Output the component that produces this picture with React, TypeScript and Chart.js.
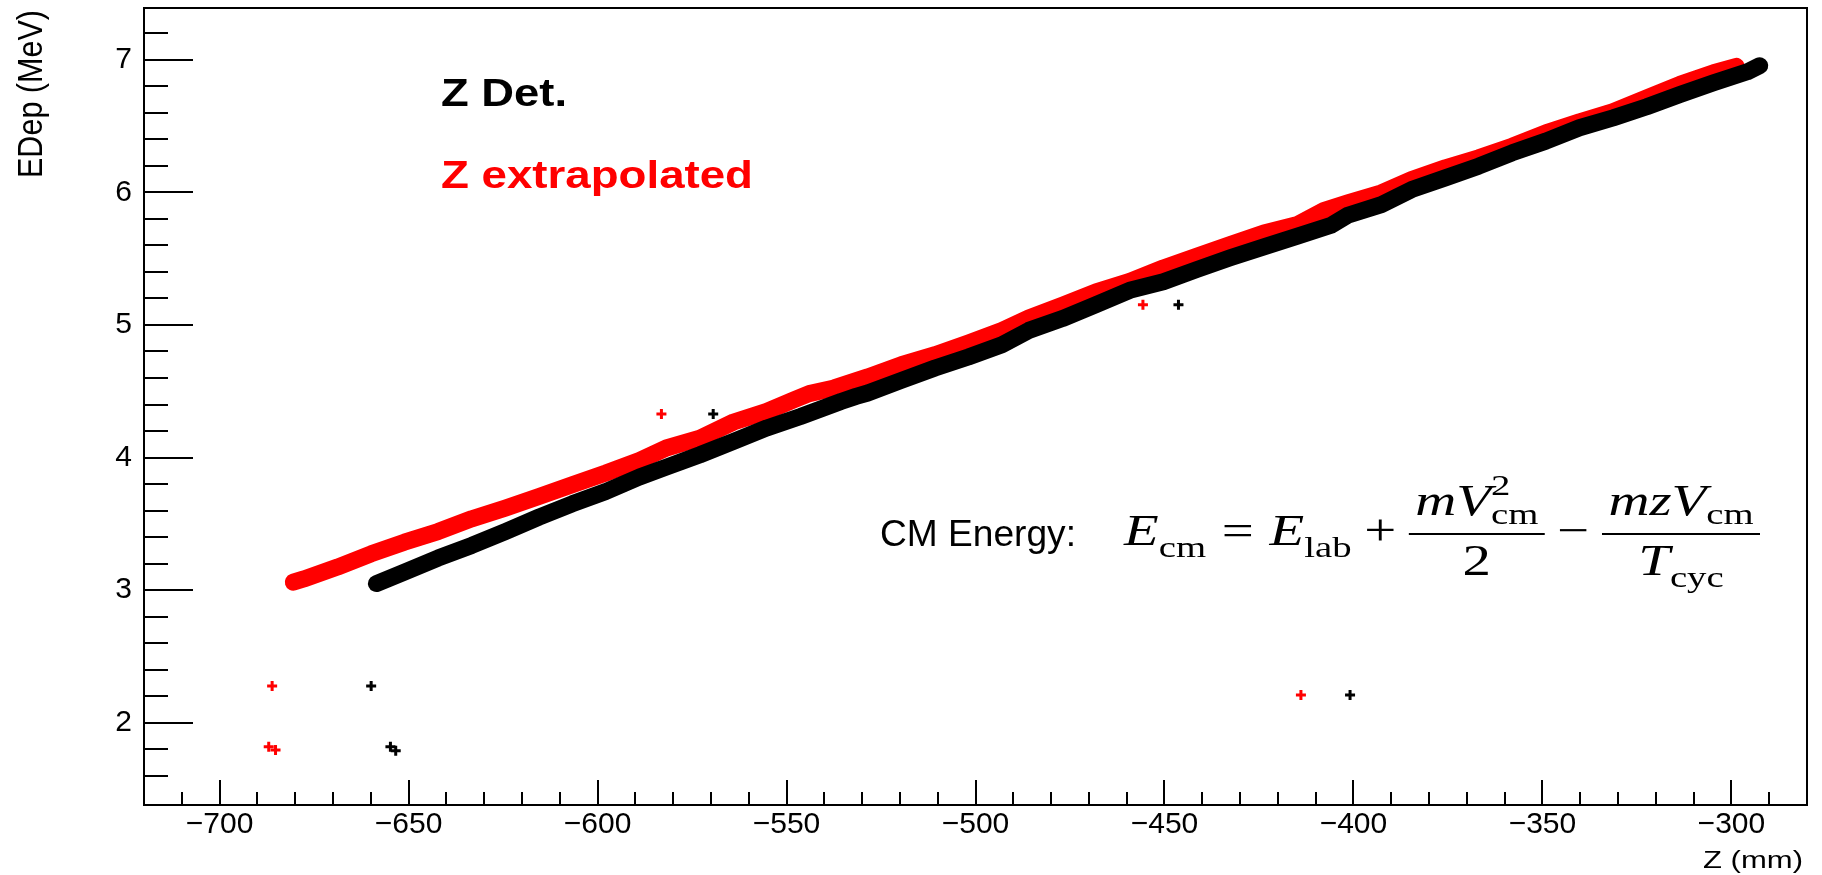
import React, { useEffect, useRef } from "react";
import { Chart, registerables } from "chart.js";

Chart.register(...registerables);

// ---------- axis ranges & ticks ----------
const X_MIN = -720;
const X_MAX = -280;
const Y_MIN = 1.38;
const Y_MAX = 7.39;

const xMajorTicks = [-700, -650, -600, -550, -500, -450, -400, -350, -300];
const xMinorTicks = [
  -710, -690, -680, -670, -660, -640, -630, -620, -610, -590, -580, -570, -560,
  -540, -530, -520, -510, -490, -480, -470, -460, -440, -430, -420, -410, -390,
  -380, -370, -360, -340, -330, -320, -310, -290,
];
const yMajorTicks = [2, 3, 4, 5, 6, 7];
const yMinorTicks = [
  1.6, 1.8, 2.2, 2.4, 2.6, 2.8, 3.2, 3.4, 3.6, 3.8, 4.2, 4.4, 4.6, 4.8, 5.2, 5.4,
  5.6, 5.8, 6.2, 6.4, 6.6, 6.8, 7.2,
];

// ---------- data (Z in mm, EDep in MeV) ----------
// "Z Det." band (black) – centre of the dense band
const detBandZ = [
  -658.5, -651.1, -642.2, -633.3, -624.4, -615.5, -606.7, -597.8, -588.9, -581.8,
  -572.9, -564.0, -555.2, -546.3, -535.6, -531.6, -528.5, -519.6, -510.7, -501.9,
  -493.0, -485.9, -477.0, -468.1, -459.2, -450.3, -441.5, -432.6, -423.7, -414.8,
  -405.9, -401.5, -392.6, -384.6, -375.7, -366.9, -358.0, -349.1, -340.2, -331.3,
  -322.4, -313.6, -304.7, -295.8, -292.5,
];
const detBandE = [
  3.05, 3.136, 3.242, 3.337, 3.442, 3.551, 3.651, 3.744, 3.853, 3.928,
  4.021, 4.122, 4.223, 4.31, 4.423, 4.461, 4.487, 4.582, 4.675, 4.758,
  4.851, 4.959, 5.048, 5.153, 5.261, 5.325, 5.417, 5.506, 5.589, 5.669,
  5.752, 5.827, 5.908, 6.021, 6.109, 6.197, 6.298, 6.386, 6.487, 6.562,
  6.645, 6.738, 6.826, 6.909, 6.955,
];

// "Z extrapolated" band (red)
const extBandZ = [
  -680.5, -677.7, -668.8, -659.9, -651.1, -642.2, -633.3, -624.4, -615.5, -606.7,
  -597.8, -588.9, -581.8, -572.9, -564.0, -555.2, -548.0, -544.0, -537.4, -528.5,
  -519.6, -510.7, -501.9, -493.0, -485.9, -477.0, -468.1, -459.2, -450.3, -441.5,
  -432.6, -423.7, -414.8, -407.7, -401.5, -392.6, -384.6, -375.7, -366.9, -358.0,
  -349.1, -340.2, -331.3, -322.4, -313.6, -304.7, -298.7,
];
const extBandE = [
  3.06, 3.085, 3.174, 3.274, 3.362, 3.442, 3.538, 3.619, 3.706, 3.795,
  3.883, 3.978, 4.072, 4.147, 4.268, 4.348, 4.436, 4.482, 4.525, 4.608,
  4.7, 4.776, 4.864, 4.959, 5.053, 5.148, 5.249, 5.329, 5.43, 5.518,
  5.606, 5.694, 5.757, 5.865, 5.921, 5.996, 6.097, 6.185, 6.26, 6.348,
  6.449, 6.532, 6.608, 6.713, 6.814, 6.902, 6.95,
];

// isolated points
const detOutZ = [-659.9, -654.8, -653.4, -569.4, -446.3, -400.9];
const detOutE = [2.278, 1.82, 1.789, 4.328, 5.153, 2.21];
const extOutZ = [-686.1, -687.0, -685.2, -583.1, -455.7, -413.9];
const extOutE = [2.278, 1.82, 1.795, 4.328, 5.153, 2.21];

// ---------- texts ----------
const legendLabels = ["Z Det.", "Z extrapolated"];
const xTitle = "Z (mm)";
const yTitle = "EDep (MeV)";
const formulaLabel = "CM Energy:";

const toPts = (xs: number[], ys: number[]) => xs.map((x, i) => ({ x, y: ys[i] }));
const fmtTick = (v: number) => (v < 0 ? "\u2212" + Math.abs(v) : String(v));

const SANS = '"Liberation Sans", Arial, Helvetica, sans-serif';
const SERIF = '"Liberation Serif", "DejaVu Serif", serif';

function fitText(
  ctx: CanvasRenderingContext2D,
  text: string,
  x: number,
  y: number,
  font: string,
  color: string,
  width: number,
  sy = 1
) {
  ctx.save();
  ctx.font = font;
  ctx.fillStyle = color;
  ctx.textAlign = "left";
  ctx.textBaseline = "alphabetic";
  const w = ctx.measureText(text).width;
  ctx.translate(x, y);
  ctx.scale(width / w, sy);
  ctx.fillText(text, 0, 0);
  ctx.restore();
}

// ---------- tiny math layout ----------
type Item =
  | { kind: "txt"; s: string; it?: boolean; sz: number; dy?: number }
  | { kind: "sp"; w: number }
  | { kind: "ss"; sup: Item; sub: Item }
  | { kind: "frac"; num: Item[]; den: Item[] };

const F = 44;
const S = 30;
const AXIS = 11;
const NUM_GAP = 19;
const DEN_GAP = 41;
const FRAC_PAD = 5;

const mathFont = (it: boolean | undefined, sz: number) =>
  `${it ? "italic " : ""}${sz}px ${SERIF}`;

function itemW(ctx: CanvasRenderingContext2D, it: Item): number {
  if (it.kind === "txt") {
    ctx.font = mathFont(it.it, it.sz);
    return ctx.measureText(it.s).width;
  }
  if (it.kind === "sp") return it.w;
  if (it.kind === "ss") return Math.max(itemW(ctx, it.sup), itemW(ctx, it.sub));
  return Math.max(rowW(ctx, it.num), rowW(ctx, it.den)) + 2 * FRAC_PAD;
}
function rowW(ctx: CanvasRenderingContext2D, row: Item[]) {
  return row.reduce((a, it) => a + itemW(ctx, it), 0);
}
function drawRow(ctx: CanvasRenderingContext2D, row: Item[], x: number, base: number) {
  let cx = x;
  for (const it of row) {
    const w = itemW(ctx, it);
    if (it.kind === "txt") {
      ctx.font = mathFont(it.it, it.sz);
      ctx.fillText(it.s, cx, base + (it.dy || 0));
    } else if (it.kind === "ss") {
      drawRow(ctx, [it.sup], cx, base);
      drawRow(ctx, [it.sub], cx, base);
    } else if (it.kind === "frac") {
      const bar = base - AXIS;
      ctx.fillRect(cx, bar - 1, w, 2);
      const nw = rowW(ctx, it.num);
      const dw = rowW(ctx, it.den);
      drawRow(ctx, it.num, cx + (w - nw) / 2, bar - NUM_GAP);
      drawRow(ctx, it.den, cx + (w - dw) / 2, bar + DEN_GAP);
    }
    cx += w;
  }
}

const t = (s: string, it: boolean, sz: number, dy = 0): Item => ({ kind: "txt", s, it, sz, dy });
const formula: Item[] = [
  t("E", true, F),
  t("cm", false, S, 12),
  { kind: "sp", w: 0.278 * F },
  t("=", false, F),
  { kind: "sp", w: 0.278 * F },
  t("E", true, F),
  t("lab", false, S, 12),
  { kind: "sp", w: 0.222 * F },
  t("+", false, F),
  { kind: "sp", w: 0.222 * F },
  {
    kind: "frac",
    num: [t("m", true, F), t("V", true, F), { kind: "ss", sup: t("2", false, S, -20), sub: t("cm", false, S, 9) }],
    den: [t("2", false, F)],
  },
  { kind: "sp", w: 0.222 * F },
  t("\u2212", false, F),
  { kind: "sp", w: 0.222 * F },
  {
    kind: "frac",
    num: [t("m", true, F), t("z", true, F), t("V", true, F), t("cm", false, S, 9)],
    den: [t("T", true, F), t("cyc", false, S, 12)],
  },
];

// ---------- plugins ----------
const framePlugin = {
  id: "rootFrame",
  afterDatasetsDraw(chart: any) {
    const ctx: CanvasRenderingContext2D = chart.ctx;
    const { left, right, top, bottom } = chart.chartArea;
    const xs = chart.scales.x;
    const ys = chart.scales.y;
    ctx.save();
    ctx.strokeStyle = "#000";
    ctx.lineWidth = 2;
    ctx.strokeRect(left, top, right - left, bottom - top);
    ctx.beginPath();
    const vt = (v: number, len: number) => {
      const px = Math.round(xs.getPixelForValue(v));
      ctx.moveTo(px, bottom);
      ctx.lineTo(px, bottom - len);
    };
    const ht = (v: number, len: number) => {
      const py = Math.round(ys.getPixelForValue(v));
      ctx.moveTo(left, py);
      ctx.lineTo(left + len, py);
    };
    xMajorTicks.forEach((v) => vt(v, 25));
    xMinorTicks.forEach((v) => vt(v, 13));
    yMajorTicks.forEach((v) => ht(v, 49));
    yMinorTicks.forEach((v) => ht(v, 24));
    ctx.stroke();
    ctx.restore();
  },
};

const textPlugin = {
  id: "rootTexts",
  afterDraw(chart: any) {
    const ctx: CanvasRenderingContext2D = chart.ctx;
    // legend-like labels
    fitText(ctx, legendLabels[0], 441, 106, `bold 39px ${SANS}`, "#000000", 126);
    fitText(ctx, legendLabels[1], 441, 188, `bold 39px ${SANS}`, "#ff0000", 312);
    // axis titles
    fitText(ctx, xTitle, 1703, 868, `23px ${SANS}`, "#000", 100);
    ctx.save();
    ctx.font = `30px ${SANS}`;
    ctx.fillStyle = "#000";
    const yw = ctx.measureText(yTitle).width;
    ctx.translate(42, 178);
    ctx.rotate(-Math.PI / 2);
    ctx.scale(168 / yw, 1.15);
    ctx.fillText(yTitle, 0, 0);
    ctx.restore();
    // formula
    fitText(ctx, formulaLabel, 880, 546, `36px ${SANS}`, "#000", 196);
    ctx.save();
    ctx.fillStyle = "#000";
    ctx.textAlign = "left";
    ctx.textBaseline = "alphabetic";
    const W = rowW(ctx, formula);
    const x0 = 1124;
    const x1 = 1760;
    ctx.translate(x0, 0);
    ctx.scale((x1 - x0) / W, 1);
    drawRow(ctx, formula, 0, 545);
    ctx.restore();
  },
};

export default function App() {
  const ref = useRef<HTMLCanvasElement | null>(null);
  useEffect(() => {
    document.body.style.margin = "0";
    const canvas = ref.current;
    if (!canvas) return;
    const chart = new Chart(canvas, {
      type: "scatter",
      data: {
        datasets: [
          {
            label: legendLabels[0],
            data: toPts(detBandZ, detBandE),
            showLine: true,
            borderColor: "#000000",
            backgroundColor: "#000000",
            borderWidth: 17,
            borderCapStyle: "round",
            borderJoinStyle: "round",
            pointRadius: 0,
            order: 0,
          },
          {
            label: legendLabels[0] + " (isolated)",
            data: toPts(detOutZ, detOutE),
            showLine: false,
            pointStyle: "cross",
            pointRadius: 5,
            borderColor: "#000000",
            backgroundColor: "#000000",
            pointBorderWidth: 3,
            order: 0,
          },
          {
            label: legendLabels[1],
            data: toPts(extBandZ, extBandE),
            showLine: true,
            borderColor: "#ff0000",
            backgroundColor: "#ff0000",
            borderWidth: 17,
            borderCapStyle: "round",
            borderJoinStyle: "round",
            pointRadius: 0,
            order: 1,
          },
          {
            label: legendLabels[1] + " (isolated)",
            data: toPts(extOutZ, extOutE),
            showLine: false,
            pointStyle: "cross",
            pointRadius: 5,
            borderColor: "#ff0000",
            backgroundColor: "#ff0000",
            pointBorderWidth: 3,
            order: 1,
          },
        ],
      } as any,
      options: {
        animation: false,
        responsive: false,
        devicePixelRatio: 1,
        events: [],
        layout: { padding: { left: 0, right: 15, top: 8, bottom: 0 } },
        plugins: { legend: { display: false }, tooltip: { enabled: false } },
        scales: {
          x: {
            type: "linear",
            position: "bottom",
            min: X_MIN,
            max: X_MAX,
            grid: { display: false, drawTicks: false },
            border: { display: false },
            afterBuildTicks: (s: any) => {
              s.ticks = xMajorTicks.map((v) => ({ value: v }));
            },
            afterFit: (s: any) => {
              s.height = 70;
              s.paddingLeft = 0;
              s.paddingRight = 0;
            },
            ticks: {
              color: "#000",
              padding: 2,
              maxRotation: 0,
              autoSkip: false,
              font: { family: SANS, size: 30 },
              callback: (v: any) => fmtTick(Number(v)),
            },
          },
          y: {
            type: "linear",
            position: "left",
            min: Y_MIN,
            max: Y_MAX,
            grid: { display: false, drawTicks: false },
            border: { display: false },
            afterBuildTicks: (s: any) => {
              s.ticks = yMajorTicks.map((v) => ({ value: v }));
            },
            afterFit: (s: any) => {
              s.width = 144;
              s.paddingTop = 0;
              s.paddingBottom = 0;
            },
            ticks: {
              color: "#000",
              padding: 12,
              autoSkip: false,
              font: { family: SANS, size: 30 },
              callback: (v: any) => fmtTick(Number(v)),
            },
          },
        },
      } as any,
      plugins: [framePlugin, textPlugin],
    });
    return () => chart.destroy();
  }, []);
  return (
    <div style={{ width: 1822, height: 875, background: "#fff" }}>
      <canvas ref={ref} width={1822} height={875} style={{ display: "block", width: 1822, height: 875 }} />
    </div>
  );
}
